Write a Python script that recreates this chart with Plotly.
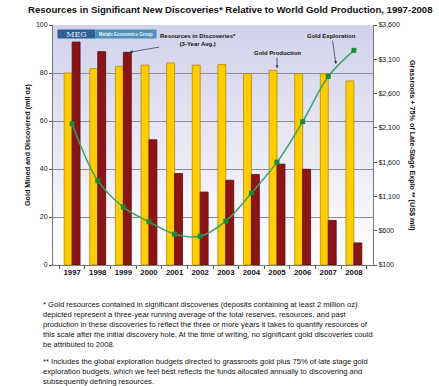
import plotly.graph_objects as go

years = ["1997", "1998", "1999", "2000", "2001", "2002", "2003", "2004", "2005", "2006", "2007", "2008"]
gold_production = [80.0, 81.8, 82.8, 83.3, 84.2, 83.3, 83.5, 79.7, 81.1, 79.7, 79.7, 76.7]
resources_discovered = [92.9, 88.9, 88.6, 52.2, 38.1, 30.4, 35.3, 37.7, 42.0, 39.9, 18.6, 9.2]
gold_exploration = [2160, 1330, 945, 730, 550, 520, 740, 1150, 1600, 2190, 2850, 3230]

left_ticks = [0, 20, 40, 60, 80, 100]
right_ticks = [100, 600, 1100, 1600, 2100, 2600, 3100, 3600]
right_tick_labels = ["$100", "$600", "$1,100", "$1,600", "$2,100", "$2,600", "$3,100", "$3,600"]

title_text = "Resources in Significant New Discoveries* Relative to World Gold Production, 1997-2008"
footnote1 = ("* Gold resources contained in significant discoveries (deposits containing at least 2 million oz)<br>"
             "depicted represent a three-year running average of the total reserves, resources, and past<br>"
             "production in these discoveries to reflect the three or more years it takes to quantify resources of<br>"
             "this scale after the initial discovery hole. At the time of writing, no significant gold discoveries could<br>"
             "be attributed to 2008.")
footnote2 = ("** Includes the global exploration budgets directed to grassroots gold plus 75% of late stage gold<br>"
             "exploration budgets, which we feel best reflects the funds allocated annually to discovering and<br>"
             "subsequently defining resources.")

FONT = "Arial, Liberation Sans, sans-serif"

fig = go.Figure()
fig.add_trace(go.Bar(x=years, y=gold_production, name="Gold Production",
                     marker=dict(color="#ffcc00", line=dict(color="#b08a00", width=0.8))))
fig.add_trace(go.Bar(x=years, y=resources_discovered, name="Resources in Discoveries",
                     marker=dict(color="#8b1515", line=dict(color="#5a0c0c", width=0.8))))
fig.add_trace(go.Scatter(x=years, y=gold_exploration, yaxis="y2", name="Gold Exploration",
                         mode="lines+markers", line=dict(color="#3f9f6f", width=1.5, shape="spline"),
                         marker=dict(symbol="square", size=5, color="#1c8a3c")))

# gradient plot background
n = 30
top = (210, 210, 236)
bot = (255, 255, 255)
shapes = []
for i in range(n):
    t = i / (n - 1)
    c = tuple(int(round(bot[k] + (top[k] - bot[k]) * t)) for k in range(3))
    shapes.append(dict(type="rect", xref="paper", yref="paper", x0=0, x1=1,
                       y0=i / n, y1=(i + 1) / n, line=dict(width=0),
                       fillcolor="rgb(%d,%d,%d)" % c, layer="below"))

H = 386
plot_top = 25
plot_bot = 265
ph = plot_bot - plot_top
pl = 53
pw = 320

def py(pix):
    return (plot_bot - pix) / ph

def px(pix):
    return (pix - pl) / pw

annotations = [
    dict(text="<b>" + title_text + "</b>", xref="paper", yref="paper", x=px(230), y=py(9),
         xanchor="center", yanchor="middle", showarrow=False, font=dict(size=9.6, color="#111", family=FONT)),
    dict(text="<b>Gold Mined and Discovered (mil oz)</b>", xref="paper", yref="paper", x=px(27), y=0.5,
         textangle=-90, showarrow=False, font=dict(size=7.2, color="#111", family=FONT),
         xanchor="center", yanchor="middle"),
    dict(text="<b>Grassroots + 75% of Late-Stage Explo ** (US$ mil)</b>", xref="paper", yref="paper",
         x=px(413), y=0.5, textangle=90, showarrow=False, font=dict(size=7.2, color="#111", family=FONT),
         xanchor="center", yanchor="middle"),
    # logo
    dict(text="MEG", xref="paper", yref="paper", x=px(57), y=py(34.5), xanchor="left", yanchor="middle",
         showarrow=False, bgcolor="#2e5f95", font=dict(size=8, color="#e8eef8", family="DejaVu Serif"),
         borderpad=0, width=37, height=8),
    dict(text="<b>Metals Economics Group</b>", xref="paper", yref="paper", x=px(95), y=py(34.5), xanchor="left",
         yanchor="middle", showarrow=False, bgcolor="#4f8fb8", font=dict(size=4.5, color="#eef4fa", family=FONT),
         borderpad=0, width=60, height=8),
    dict(text="<b>Resources in Discoveries*<br>(3-Year Avg.)</b>", x=2.2, y=88.6, xref="x", yref="y",
         ax=70, ay=-12, showarrow=True, arrowhead=2, arrowsize=0.8, arrowwidth=0.8,
         font=dict(size=6, color="#111", family=FONT), standoff=1),
    dict(text="<b>Gold Production</b>", x=8, y=81.1, xref="x", yref="y",
         showarrow=True, arrowhead=2, arrowsize=0.8, arrowwidth=0.8, ax=0, ay=-17,
         font=dict(size=6, color="#111", family=FONT), standoff=2),
    dict(text="<b>Gold Exploration</b>", x=10.3, y=3030, xref="x", yref="y2",
         showarrow=True, arrowhead=2, arrowsize=0.8, arrowwidth=0.8, ax=-4, ay=-28,
         font=dict(size=6, color="#111", family=FONT), standoff=0),
    dict(text=footnote1, xref="paper", yref="paper", x=px(41), y=py(298), xanchor="left", yanchor="top",
         align="left", showarrow=False, font=dict(size=7.6, color="#111", family=FONT)),
    dict(text=footnote2, xref="paper", yref="paper", x=px(41), y=py(355), xanchor="left", yanchor="top",
         align="left", showarrow=False, font=dict(size=7.6, color="#111", family=FONT)),
]

fig.update_layout(
    width=439, height=386,
    margin=dict(l=pl, r=439 - pl - pw, t=plot_top, b=H - plot_bot, pad=0, autoexpand=False),
    paper_bgcolor="white", plot_bgcolor="rgba(0,0,0,0)",
    showlegend=False, barmode="group", bargap=0.38, bargroupgap=0.0,
    font=dict(family=FONT, color="#111"),
    xaxis=dict(type="category", tickson="boundaries", ticks="outside", ticklen=3, tickcolor="#555",
               showline=True, linecolor="#777", linewidth=1, showgrid=False, tickangle=0, automargin=False,
               tickfont=dict(size=7.8, color="#111", family=FONT), tickprefix="<b>", ticksuffix="</b>"),
    yaxis=dict(range=[0, 100], tickvals=left_ticks, ticks="outside", ticklen=3, tickcolor="#555",
               showline=True, linecolor="#777", showgrid=True, gridcolor="#8a8a98", gridwidth=1,
               automargin=False, tickfont=dict(size=7, color="#111", family=FONT), zeroline=False),
    yaxis2=dict(range=[100, 3600], overlaying="y", side="right", tickvals=right_ticks,
                ticktext=right_tick_labels, ticks="outside", ticklen=3, tickcolor="#555",
                showline=True, linecolor="#777", showgrid=False, zeroline=False, automargin=False,
                tickfont=dict(size=7, color="#111", family=FONT)),
    shapes=shapes,
    annotations=annotations,
)

fig.write_html("out.html", config={"displayModeBar": False},
               post_script="document.body.style.margin='0';document.body.style.padding='0';")
